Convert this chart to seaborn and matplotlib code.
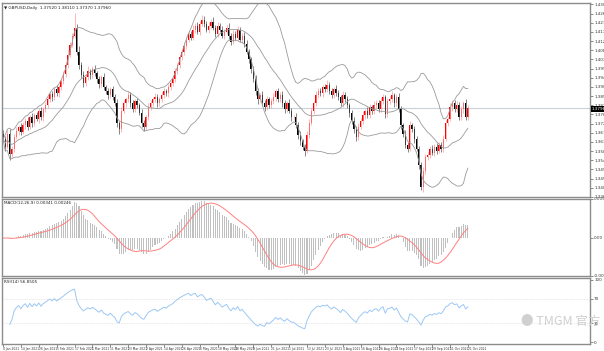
import numpy as np
import pandas as pd
import matplotlib
matplotlib.use("Agg")
import matplotlib.pyplot as plt
import seaborn as sns

# GBPUSD daily candles from 4 Jan 2021
first_open = 1.3670
closes = [
    1.3645, 1.3606, 1.3670, 1.3572, 1.3597, 1.3655, 1.3684, 1.3704, 1.3679, 1.3713,
    1.3733, 1.3704, 1.3752, 1.3723, 1.3762, 1.3743, 1.3782, 1.3752, 1.3791, 1.3811,
    1.3840, 1.3864, 1.3850, 1.3889, 1.3869, 1.3898, 1.3928, 1.3962, 1.4010, 1.4059,
    1.4108, 1.4152, 1.4191, 1.4074, 1.4006, 1.3957, 1.3918, 1.3947, 1.3976, 1.3957,
    1.3986, 1.3967, 1.3937, 1.3913, 1.3947, 1.3898, 1.3879, 1.3859, 1.3889, 1.3850,
    1.3820, 1.3723, 1.3694, 1.3782, 1.3820, 1.3840, 1.3859, 1.3820, 1.3791, 1.3830,
    1.3811, 1.3772, 1.3723, 1.3704, 1.3752, 1.3801, 1.3820, 1.3840, 1.3850, 1.3820,
    1.3840, 1.3859, 1.3879, 1.3869, 1.3898, 1.3918, 1.3937, 1.3976, 1.4006, 1.4045,
    1.4074, 1.4103, 1.4132, 1.4161, 1.4142, 1.4181, 1.4200, 1.4171, 1.4210, 1.4230,
    1.4210, 1.4181, 1.4200, 1.4220, 1.4191, 1.4161, 1.4200, 1.4181, 1.4152, 1.4171,
    1.4191, 1.4152, 1.4122, 1.4161, 1.4142, 1.4181, 1.4132, 1.4152, 1.4113, 1.4074,
    1.4035, 1.3986, 1.3937, 1.3879, 1.3840, 1.3859, 1.3820, 1.3801, 1.3840, 1.3811,
    1.3830, 1.3850, 1.3879, 1.3840, 1.3859, 1.3820, 1.3791, 1.3820, 1.3782, 1.3752,
    1.3752, 1.3713, 1.3665, 1.3635, 1.3606, 1.3587, 1.3665, 1.3723, 1.3782, 1.3820,
    1.3859, 1.3879, 1.3869, 1.3898, 1.3889, 1.3908, 1.3879, 1.3859, 1.3889, 1.3869,
    1.3850, 1.3820, 1.3859, 1.3840, 1.3811, 1.3772, 1.3733, 1.3694, 1.3655, 1.3704,
    1.3733, 1.3762, 1.3782, 1.3762, 1.3801, 1.3782, 1.3811, 1.3820, 1.3791, 1.3830,
    1.3850, 1.3767, 1.3830, 1.3840, 1.3859, 1.3820, 1.3850, 1.3791, 1.3713, 1.3670,
    1.3616, 1.3597, 1.3713, 1.3694, 1.3645, 1.3597, 1.3519, 1.3411, 1.3489, 1.3557,
    1.3567, 1.3597, 1.3577, 1.3606, 1.3587, 1.3616, 1.3597, 1.3645, 1.3723, 1.3743,
    1.3801, 1.3820, 1.3791, 1.3811, 1.3752, 1.3791, 1.3820, 1.3752, 1.3796,
]
# wick lengths above / below the body, in pips
upper_pips = [
    20, 15, 18, 25, 12, 15, 20, 10, 18, 14, 15, 22, 12, 18, 10, 16, 14, 20, 12, 15,
    18, 12, 15, 10, 20, 14, 12, 18, 15, 20, 12, 15, 73, 20, 25, 18, 22, 15, 28, 12,
    15, 20, 12, 18, 14, 22, 10, 16, 12, 18, 14, 20, 12, 18, 15, 10, 20, 14, 18, 12,
    16, 12, 20, 15, 10, 18, 14, 12, 20, 15, 12, 18, 14, 10, 16, 12, 20, 15, 12, 18,
    14, 20, 12, 18, 15, 22, 12, 20, 15, 24, 18, 14, 20, 12, 25, 15, 18, 14, 20, 12,
    15, 22, 12, 18, 14, 20, 15, 12, 18, 16, 14, 12, 18, 20, 15, 12, 22, 14, 18, 10,
    16, 20, 12, 18, 15, 22, 14, 12, 20, 15, 12, 18, 14, 20, 12, 15, 18, 22, 15, 12,
    20, 14, 18, 12, 16, 25, 14, 18, 12, 20, 15, 12, 22, 14, 18, 12, 15, 20, 12, 18,
    14, 20, 12, 18, 15, 12, 20, 14, 18, 22, 15, 12, 18, 14, 20, 12, 16, 18, 14, 12,
    18, 15, 20, 12, 16, 14, 12, 15, 18, 14, 16, 12, 18, 14, 20, 12, 15, 18, 14, 12,
    20, 15, 18, 22, 14, 18, 12, 20, 15,
]
lower_pips = [
    15, 22, 12, 30, 18, 14, 12, 20, 15, 12, 18, 14, 12, 20, 15, 12, 18, 14, 20, 12,
    15, 12, 18, 14, 12, 16, 12, 14, 12, 15, 12, 14, 10, 15, 18, 12, 20, 15, 12, 18,
    14, 12, 18, 20, 15, 12, 14, 18, 12, 15, 12, 20, 25, 14, 12, 16, 12, 18, 14, 12,
    15, 12, 18, 22, 14, 12, 16, 12, 14, 18, 12, 16, 14, 12, 18, 14, 12, 15, 12, 14,
    12, 15, 18, 12, 14, 12, 15, 12, 14, 12, 15, 12, 18, 14, 12, 15, 18, 12, 14, 16,
    12, 15, 18, 12, 14, 16, 12, 18, 15, 14, 16, 18, 14, 20, 25, 14, 12, 18, 14, 16,
    12, 15, 18, 14, 12, 16, 20, 14, 12, 18, 15, 12, 18, 20, 14, 25, 12, 15, 12, 14,
    12, 15, 12, 18, 14, 12, 16, 12, 15, 14, 12, 14, 18, 12, 16, 20, 14, 18, 22, 14,
    12, 15, 18, 14, 12, 16, 14, 12, 15, 12, 14, 18, 12, 15, 12, 18, 14, 12, 20, 15,
    18, 14, 12, 15, 18, 12, 20, 19, 25, 15, 14, 18, 12, 15, 14, 12, 18, 14, 12, 15,
    12, 18, 14, 12, 16, 14, 18, 12, 15,
]

date_labels = [
    "4 Jan 2021", "14 Jan 2021", "26 Jan 2021", "5 Feb 2021", "17 Feb 2021",
    "1 Mar 2021", "11 Mar 2021", "23 Mar 2021", "2 Apr 2021", "14 Apr 2021",
    "26 Apr 2021", "6 May 2021", "18 May 2021", "28 May 2021", "9 Jun 2021",
    "21 Jun 2021", "1 Jul 2021", "13 Jul 2021", "23 Jul 2021", "4 Aug 2021",
    "16 Aug 2021", "26 Aug 2021", "7 Sep 2021", "17 Sep 2021", "29 Sep 2021",
    "11 Oct 2021", "21 Oct 2021",
]
price_ticks = [1.4305 - 0.0045 * k for k in range(22)]
rsi_levels = [70, 30]

n = len(closes)
opens = [first_open] + closes[:-1]
df = pd.DataFrame({"bar": np.arange(n), "open": opens, "close": closes})
body_top = df[["open", "close"]].max(axis=1)
body_bot = df[["open", "close"]].min(axis=1)
df["high"] = body_top + np.array(upper_pips) * 1e-4
df["low"] = body_bot - np.array(lower_pips) * 1e-4

# indicators the way the terminal computes them
mid = df.close.rolling(20, min_periods=1).mean()
sd = df.close.rolling(20, min_periods=1).std(ddof=0)
df["bb_mid"] = mid
df["bb_up"] = mid + 2 * sd
df["bb_lo"] = mid - 2 * sd
df["macd"] = df.close.ewm(span=12).mean() - df.close.ewm(span=26).mean()
df["signal"] = df.macd.rolling(9, min_periods=1).mean()
delta = pd.Series(np.array(closes) - np.array(opens))
up = delta.clip(lower=0).ewm(alpha=1 / 14, min_periods=4).mean()
dn = (-delta.clip(upper=0)).ewm(alpha=1 / 14, min_periods=4).mean()
df["rsi"] = 100 - 100 / (1 + up / dn)

sns.set_style("white")
plt.rcParams["font.family"] = ["DejaVu Sans"]

fig = plt.figure(figsize=(6.04, 3.51), dpi=100)
L, W = 0.0033, 0.9735
ax1 = fig.add_axes([L, 0.43875, W, 0.5527])
ax2 = fig.add_axes([L, 0.21368, W, 0.2194])
ax3 = fig.add_axes([L, 0.01994, W, 0.18803])

x0, x1 = -0.45, 262.6
fs = 3.0
for ax in (ax1, ax2, ax3):
    ax.yaxis.tick_right()
    ax.tick_params(axis="y", labelsize=fs, length=2, width=0.4, pad=1, colors="#333333")
    ax.tick_params(axis="x", bottom=False, labelbottom=False)
    for s in ax.spines.values():
        s.set_color("#8c8c8c")
        s.set_linewidth(1.0)

# --- main panel: candles + bollinger bands
bull = df.close >= df.open
for is_bull, col, wcol in [(True, "#ff0000", "#ff9a9a"), (False, "#000000", "#555555")]:
    d = df[bull == is_bull]
    ax1.vlines(d.bar, d.low, d.high, color=wcol, lw=0.5)
    ax1.bar(d.bar, (d.close - d.open).abs().clip(lower=0.0002),
            bottom=d[["open", "close"]].min(axis=1), width=0.6, color=col, lw=0)
for c in ["bb_up", "bb_mid", "bb_lo"]:
    sns.lineplot(data=df, x="bar", y=c, ax=ax1, color="#9a9a9a", lw=0.6)
last = closes[-1]
ylo, yhi = 1.3368, 1.4312
ax1.axhline(last, color="#c9d1dd", lw=0.8, zorder=0)
ax1.set_ylim(ylo, yhi)
ax1.set_yticks(price_ticks)
ax1.set_yticklabels([f"{v:.5f}" for v in price_ticks])
ax1.text(1.002, (last - ylo) / (yhi - ylo), f"{last:.5f}", transform=ax1.transAxes,
         fontsize=fs, color="white", va="center", ha="left",
         bbox=dict(boxstyle="square,pad=0.15", fc="black", ec="none"), clip_on=False)
r = df.iloc[-1]
ax1.text(0.004, 0.985, f"\u25bc GBPUSD,Daily  {r.open:.5f} {r.high:.5f} {r.low:.5f} {r.close:.5f}",
         transform=ax1.transAxes, fontsize=fs, va="top", color="#222222")

# --- MACD panel
sns.barplot(data=df, x="bar", y="macd", ax=ax2, native_scale=True, color="#c0c0c0",
            width=0.45, linewidth=0)
sns.lineplot(data=df, x="bar", y="signal", ax=ax2, color="#ff8080", lw=0.7)
mlo, mhi = df.macd.min(), df.macd.max()
ax2.set_ylim(mlo * 1.03, mhi * 1.06)
ax2.set_yticks([mhi * 1.06, 0, mlo * 1.03])
ax2.set_yticklabels([f"{mhi * 1.06:.5f}", "0.00", f"{mlo * 1.03:.5f}"])
ax2.text(0.004, 0.97, f"MACD(12,26,9) {df.macd.iloc[-1]:.5f} {df.signal.iloc[-1]:.5f}",
         transform=ax2.transAxes, fontsize=fs, va="top", color="#222222")

# --- RSI panel
sns.lineplot(data=df, x="bar", y="rsi", ax=ax3, color="#9cc8f5", lw=0.7)
for lvl in rsi_levels:
    ax3.axhline(lvl, color="#bbbbbb", lw=0.4, ls=(0, (1, 2)))
ax3.set_ylim(-3, 103)
ax3.set_yticks([100] + rsi_levels + [0])
ax3.set_yticklabels(["100"] + [str(v) for v in rsi_levels] + ["0"])
ax3.text(0.004, 0.97, f"RSI(14) {df.rsi.iloc[-1]:.4f}", transform=ax3.transAxes,
         fontsize=fs, va="top", color="#222222")

for ax in (ax1, ax2, ax3):
    ax.set_xlim(x0, x1)
    ax.set_xlabel("")
    ax.set_ylabel("")

# date axis under the last panel
tick_pos = np.arange(0, 8 * len(date_labels), 8)
ax3.set_xticks(tick_pos)
ax3.set_xticklabels(date_labels, ha="left")
ax3.tick_params(axis="x", bottom=True, labelbottom=True, labelsize=2.2, length=2,
                width=0.4, pad=0.5, colors="#333333")

# watermark
fig.text(0.862, 0.075, "\u25cf TMGM 官方", fontsize=9, color="#d0d0d0",
         family=["Noto Sans CJK SC", "DejaVu Sans"])

fig.savefig("out.png", dpi=100)
